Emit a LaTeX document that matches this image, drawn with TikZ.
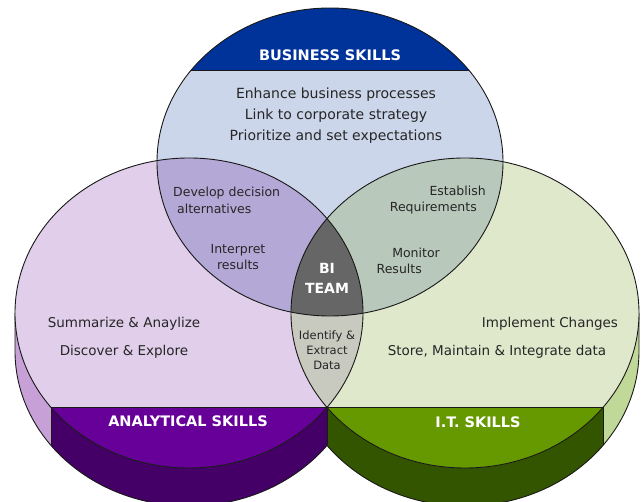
\documentclass[tikz,border=0pt]{standalone}
\usepackage{fontspec}
\setmainfont{DejaVu Sans}
\definecolor{lblue}{HTML}{CCD6EA}
\definecolor{busband}{HTML}{003399}
\definecolor{lpurple}{HTML}{E0CEEA}
\definecolor{tlcol}{HTML}{B4A8D6}
\definecolor{lgreen}{HTML}{E0E8CC}
\definecolor{trcol}{HTML}{B8C8BA}
\definecolor{lrcol}{HTML}{C8CAC0}
\definecolor{midcol}{HTML}{666666}
\definecolor{anaband}{HTML}{660099}
\definecolor{anaside}{HTML}{440066}
\definecolor{analight}{HTML}{C8A0D8}
\definecolor{itband}{HTML}{669900}
\definecolor{itside}{HTML}{335500}
\definecolor{itlight}{HTML}{C0D898}
\definecolor{txtgray}{HTML}{262626}
\begin{document}
\begin{tikzpicture}[x=1pt,y=-1pt,
  txtbig/.style={text=txtgray, inner sep=0pt, align=center, font=\fontsize{14}{21}\selectfont},
  txtmid/.style={text=txtgray, inner sep=0pt, align=center, font=\fontsize{13.5}{28}\selectfont},
  txtsm/.style={text=txtgray, inner sep=0pt, font=\fontsize{12.5}{16}\selectfont},
  txttiny/.style={text=txtgray, inner sep=0pt, align=center, font=\fontsize{11.5}{15}\selectfont},
  lbl/.style={text=white, inner sep=0pt, align=center, font=\bfseries\fontsize{14.5}{20}\selectfont},
  edge/.style={draw=black!90, line width=0.9pt},
  ellT/.style={x radius=173, y radius=154},
  ellS/.style={x radius=174, y radius=155}]
\useasboundingbox (0,0) rectangle (641,502);
\clip (0,0) rectangle (641,502);
% ---- sides of the two lower disks
\begin{scope}
  \clip (0,0) rectangle (51,520);
  \fill[analight] (15,313) -- (15,351) arc[start angle=180, end angle=0, ellS] -- (363,313) -- cycle;
\end{scope}
\begin{scope}
  \clip (51,0) rectangle (327,520);
  \fill[anaside] (15,313) -- (15,351) arc[start angle=180, end angle=0, ellS] -- (363,313) -- cycle;
\end{scope}
\begin{scope}
  \clip (327,0) rectangle (603,520);
  \fill[itside] (291,313) -- (291,351) arc[start angle=180, end angle=0, ellS] -- (639,313) -- cycle;
\end{scope}
\begin{scope}
  \clip (603,0) rectangle (641,520);
  \fill[itlight] (291,313) -- (291,351) arc[start angle=180, end angle=0, ellS] -- (639,313) -- cycle;
\end{scope}
\begin{scope}
  \clip (0,0) rectangle (327,520);
  \draw[edge] (15,313) -- (15,351) arc[start angle=180, end angle=0, ellS];
\end{scope}
\begin{scope}
  \clip (327,0) rectangle (641,520);
  \draw[edge] (639,313) -- (639,351) arc[start angle=0, end angle=180, ellS];
\end{scope}
\draw[edge] (51,407) -- (51,445.5);
\draw[edge] (327,407) -- (327,445.5);
\draw[edge] (603,407) -- (603,445.5);
% ---- faces
\fill[lpurple] (189,313) ellipse[ellS];
\fill[lgreen] (465,313) ellipse[ellS];
\fill[lblue] (330,162) ellipse[ellT];
\begin{scope}
  \clip (330,162) ellipse[ellT];
  \fill[tlcol] (189,313) ellipse[ellS];
  \fill[trcol] (465,313) ellipse[ellS];
  \fill[busband] (0,0) rectangle (641,70);
\end{scope}
\begin{scope}
  \clip (189,313) ellipse[ellS];
  \fill[lrcol] (465,313) ellipse[ellS];
  \fill[anaband] (0,407) rectangle (641,520);
\end{scope}
\begin{scope}
  \clip (465,313) ellipse[ellS];
  \fill[itband] (0,407) rectangle (641,520);
\end{scope}
\begin{scope}
  \clip (330,162) ellipse[ellT];
  \clip (189,313) ellipse[ellS];
  \fill[midcol] (465,313) ellipse[ellS];
\end{scope}
% ---- outlines
\draw[edge] (189,313) ellipse[ellS];
\draw[edge] (465,313) ellipse[ellS];
\draw[edge] (330,162) ellipse[ellT];
\draw[edge] (51,407) -- (603,407);
\begin{scope}
  \clip (330,162) ellipse[ellT];
  \draw[edge] (0,70) -- (641,70);
\end{scope}
% ---- labels
\node[lbl] (bus) at (330,55) {BUSINESS SKILLS};
\node[lbl] (ana) at (188,421) {ANALYTICAL SKILLS};
\node[lbl] (its) at (478,422) {I.T. SKILLS};
\node[lbl, font=\bfseries\fontsize{14}{20}\selectfont] (bi) at (327,278) {BI\\TEAM};
\node[txtbig] (busitems) at (336,116) {Enhance business processes\\Link to corporate strategy\\Prioritize and set expectations};
\node[txtmid] (anaitems) at (124,338) {Summarize \& Anaylize\\Discover \& Explore};
\node[txtmid] (ititems) at (497,338) {\hspace*{106pt}Implement Changes\\Store, Maintain \& Integrate data};
\node[txtsm, anchor=west] (dev1) at (173,193) {Develop decision};
\node[txtsm, anchor=west] (dev2) at (177,209) {alternatives};
\node[txtsm, align=center] (interp) at (238,257) {Interpret\\results};
\node[txtsm, anchor=east] (est1) at (486,191) {Establish};
\node[txtsm, anchor=east] (est2) at (477,208) {Requirements};
\node[txtsm, anchor=east] (mon1) at (440,253) {Monitor};
\node[txtsm, anchor=east] (mon2) at (422,269) {Results};
\node[txttiny] (ident) at (327,350) {Identify \&\\Extract\\Data};
\end{tikzpicture}
\end{document}
